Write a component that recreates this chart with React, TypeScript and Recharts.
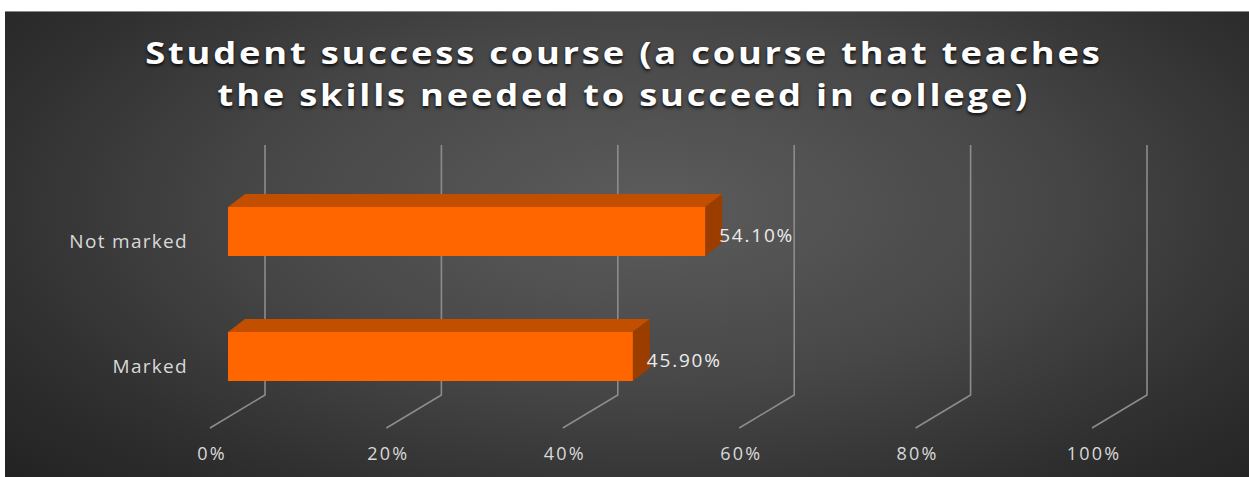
import { BarChart, Bar, XAxis, YAxis, CartesianGrid, LabelList } from 'recharts'

const categories = ['Not marked', 'Marked']
const shares = [0.541, 0.459]
const xTicks = [0, 0.2, 0.4, 0.6, 0.8, 1]
const titleLines = ['Student success course (a course that teaches', 'the skills needed to succeed in college)']

const W = 1249
const H = 477
const PLOT_LEFT = 228
const PLOT_RIGHT = 1110
const PLOT_TOP = 169
const PLOT_BOTTOM = 419
const DEPTH_X = 17
const DEPTH_Y = 13

const data = categories.map((category, i) => ({ category, share: shares[i] }))

const pct = (v: number, digits = 0) => `${(v * 100).toFixed(digits)}%`

function Box3D(props: any) {
  const { x, y, width, height } = props
  if (width <= 0) return null
  const r = x + width
  return (
    <g>
      <polygon
        points={`${x},${y} ${x + DEPTH_X},${y - DEPTH_Y} ${r + DEPTH_X},${y - DEPTH_Y} ${r},${y}`}
        fill="#c24f00"
      />
      <polygon
        points={`${r},${y} ${r + DEPTH_X},${y - DEPTH_Y} ${r + DEPTH_X},${y + height - DEPTH_Y} ${r},${y + height}`}
        fill="#9c3d00"
      />
      <rect x={x} y={y} width={width} height={height} fill="#ff6600" />
    </g>
  )
}

function WallLine(props: any) {
  const { x1 } = props
  const bx = x1 + 37
  return (
    <path
      d={`M${bx},${PLOT_TOP - 24} L${bx},${PLOT_BOTTOM - 24} L${x1 - 18},${PLOT_BOTTOM + 9}`}
      stroke="#8c8c8c"
      strokeWidth={1.6}
      fill="none"
    />
  )
}

function XTick(props: any) {
  const { x, payload } = props
  return (
    <text x={x - 16} y={PLOT_BOTTOM + 41} textAnchor="middle" fill="#d9d9d9" fontSize={18} fontFamily="Open Sans" letterSpacing={2.2}>
      {pct(payload.value)}
    </text>
  )
}

function YTick(props: any) {
  const { y, payload } = props
  return (
    <text x={PLOT_LEFT - 40} y={y + 16} textAnchor="end" fill="#d9d9d9" fontSize={19} fontFamily="Open Sans" letterSpacing={1.3}>
      {payload.value}
    </text>
  )
}

function ValueLabel(props: any) {
  const { x, y, width, height, value } = props
  return (
    <text x={x + width + 14} y={y + height / 2 + 10} fill="#ececec" fontSize={19} fontFamily="Open Sans" letterSpacing={1.8}>
      {pct(value, 2)}
    </text>
  )
}

export default function App() {
  return (
    <div style={{ position: 'absolute', left: 0, top: 0, width: W, height: H, background: '#fff', overflow: 'hidden' }}>
      <div
        style={{
          position: 'absolute',
          left: 5,
          top: 11,
          width: W - 5,
          height: H - 11,
          borderTop: '1px solid #8a8a8a',
          background: 'radial-gradient(ellipse 70% 85% at 52% 42%, #5c5c5c 0%, #474747 45%, #2e2e2e 80%, #232323 100%)',
        }}
      />
      {titleLines.map((line, i) => (
        <div
          key={i}
          style={{
            position: 'absolute',
            left: 0,
            width: W,
            top: 31 + i * 42,
            textAlign: 'center',
            color: '#ffffff',
            fontFamily: 'Open Sans',
            fontWeight: 700,
            fontSize: 31,
            letterSpacing: 2.4,
            lineHeight: '42px',
            transform: 'scaleX(1.17)',
            transformOrigin: '628px 50%',
            textShadow: '0 2px 3px rgba(0,0,0,0.85)',
          }}
        >
          {line}
        </div>
      ))}
      <div style={{ position: 'absolute', left: 0, top: 0 }}>
        <BarChart
          width={W}
          height={H}
          data={data}
          layout="vertical"
          margin={{ top: PLOT_TOP, right: W - PLOT_RIGHT, bottom: 0, left: 0 }}
          barCategoryGap={0}
        >
          <CartesianGrid horizontal={false} vertical={WallLine} />
          <XAxis
            type="number"
            domain={[0, 1]}
            ticks={xTicks}
            height={H - PLOT_BOTTOM}
            axisLine={false}
            tickLine={false}
            tick={XTick}
            interval={0}
          />
          <YAxis
            type="category"
            dataKey="category"
            width={PLOT_LEFT}
            axisLine={false}
            tickLine={false}
            tick={YTick}
          />
          <Bar dataKey="share" barSize={49} shape={Box3D} isAnimationActive={false}>
            <LabelList dataKey="share" content={ValueLabel} />
          </Bar>
        </BarChart>
      </div>
    </div>
  )
}
